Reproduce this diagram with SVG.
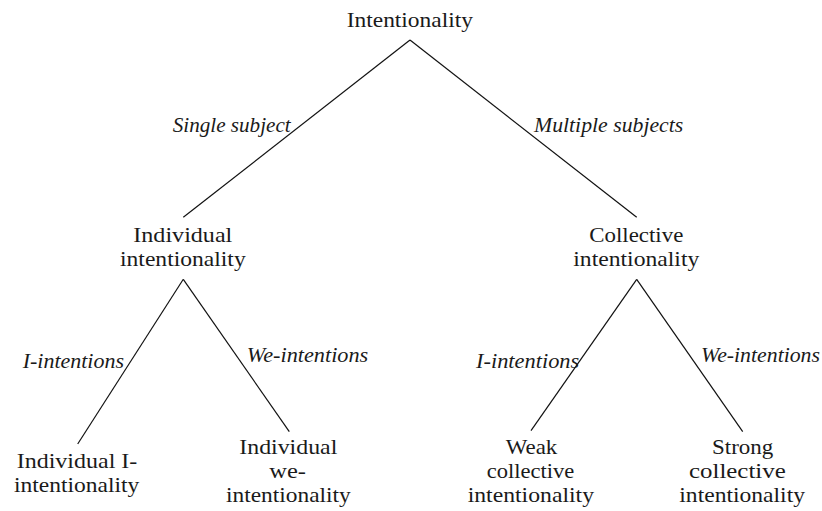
<svg xmlns="http://www.w3.org/2000/svg" width="822" height="511" viewBox="0 0 822 511">
  <style>
    text { font-family: "Liberation Serif", "Times New Roman", serif; font-size: 21px; fill: #1a1a1a; }
    .lbl { font-style: italic; }
    .edge { stroke: #111; stroke-width: 1.2; fill: none; }
  </style>
  <rect width="822" height="511" fill="#ffffff"/>

  <!-- tree edges -->
  <g id="connectors">
    <line class="edge" x1="410" y1="40" x2="183.3" y2="217.3"/>
    <line class="edge" x1="410" y1="40" x2="636.7" y2="217.3"/>
    <line class="edge" x1="183.3" y1="279.3" x2="77.7" y2="444"/>
    <line class="edge" x1="183.3" y1="279.3" x2="289.3" y2="431.7"/>
    <line class="edge" x1="636.7" y1="279.3" x2="531" y2="430.7"/>
    <line class="edge" x1="636.7" y1="279.3" x2="742.7" y2="431.7"/>
  </g>

  <!-- edge labels -->
  <g id="edge-labels">
    <text class="lbl" x="172.7" y="132.3" textLength="118" lengthAdjust="spacingAndGlyphs">Single subject</text>
    <text class="lbl" x="534" y="132.3" textLength="149.3" lengthAdjust="spacingAndGlyphs">Multiple subjects</text>
    <text class="lbl" x="22.7" y="368.3" textLength="101.3" lengthAdjust="spacingAndGlyphs">I-intentions</text>
    <text class="lbl" x="246.7" y="361.7" textLength="121.6" lengthAdjust="spacingAndGlyphs">We-intentions</text>
    <text class="lbl" x="476" y="368.3" textLength="103.3" lengthAdjust="spacingAndGlyphs">I-intentions</text>
    <text class="lbl" x="701" y="361.7" textLength="119" lengthAdjust="spacingAndGlyphs">We-intentions</text>
  </g>

  <g id="node-root">
    <text x="346.7" y="27" textLength="126.3" lengthAdjust="spacingAndGlyphs">Intentionality</text>
  </g>

  <g id="node-individual">
    <text x="133.3" y="241.7" textLength="99" lengthAdjust="spacingAndGlyphs">Individual</text>
    <text x="120" y="265.7" textLength="125.7" lengthAdjust="spacingAndGlyphs">intentionality</text>
  </g>

  <g id="node-collective">
    <text x="589.3" y="241.7" textLength="94" lengthAdjust="spacingAndGlyphs">Collective</text>
    <text x="573.3" y="265.7" textLength="126" lengthAdjust="spacingAndGlyphs">intentionality</text>
  </g>

  <g id="node-individual-i">
    <text x="16.7" y="468.3" textLength="120.6" lengthAdjust="spacingAndGlyphs">Individual I-</text>
    <text x="14" y="492.3" textLength="125.3" lengthAdjust="spacingAndGlyphs">intentionality</text>
  </g>

  <g id="node-individual-we">
    <text x="239.3" y="454.3" textLength="98" lengthAdjust="spacingAndGlyphs">Individual</text>
    <text x="269.3" y="478.3" textLength="36.7" lengthAdjust="spacingAndGlyphs">we-</text>
    <text x="226" y="502.3" textLength="124.7" lengthAdjust="spacingAndGlyphs">intentionality</text>
  </g>

  <g id="node-weak">
    <text x="505.7" y="454.3" textLength="51.6" lengthAdjust="spacingAndGlyphs">Weak</text>
    <text x="486.7" y="478.3" textLength="87.6" lengthAdjust="spacingAndGlyphs">collective</text>
    <text x="467.7" y="502.3" textLength="126.3" lengthAdjust="spacingAndGlyphs">intentionality</text>
  </g>

  <g id="node-strong">
    <text x="712" y="454.3" textLength="61.3" lengthAdjust="spacingAndGlyphs">Strong</text>
    <text x="689" y="478.3" textLength="96.7" lengthAdjust="spacingAndGlyphs">collective</text>
    <text x="679.3" y="502.3" textLength="125.7" lengthAdjust="spacingAndGlyphs">intentionality</text>
  </g>
</svg>
